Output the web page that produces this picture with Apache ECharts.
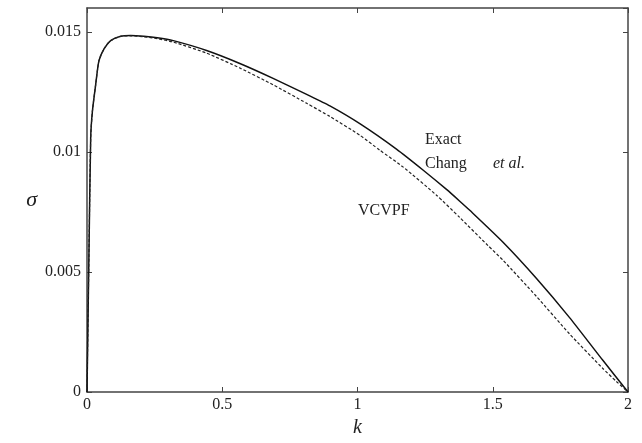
<!DOCTYPE html>
<html>
<head>
    <meta charset="UTF-8">
    <title>sigma-k</title>
    <script src="https://cdn.jsdelivr.net/npm/echarts@6/dist/echarts.min.js"></script>
    <style>
        html,body{margin:0;padding:0;background:#fff;}
        #chart{width:642px;height:443px;}
    </style>
</head>
<body>
<div id="chart"></div>
<script>
    // Exact (Chang et al.) - solid
    let kExact = [0, 0.003, 0.007, 0.0137, 0.02, 0.032, 0.044, 0.063, 0.0875, 0.1245, 0.161, 0.21, 0.26, 0.319, 0.442, 0.565, 0.688, 0.812, 0.898, 1.0085, 1.144, 1.242, 1.329, 1.378, 1.415, 1.538, 1.661, 1.784, 1.907, 2.0];
    let sigmaExact = [0, 0.0024, 0.0056, 0.0106, 0.0117, 0.0128, 0.0138, 0.0143, 0.01464, 0.01482, 0.01485, 0.01482, 0.01476, 0.01464, 0.01423, 0.01369, 0.01307, 0.0124, 0.01192, 0.01118, 0.01012, 0.00925, 0.00844, 0.00795, 0.00757, 0.00624, 0.00474, 0.0031, 0.00132, 0];
    // VCVPF - dashed
    let kVcvpf = [0, 0.003, 0.007, 0.0137, 0.02, 0.032, 0.044, 0.063, 0.0875, 0.1245, 0.161, 0.21, 0.26, 0.319, 0.442, 0.565, 0.688, 0.812, 0.898, 1.0085, 1.082, 1.168, 1.292, 1.378, 1.4825, 1.538, 1.661, 1.784, 1.907, 1.957, 2.0];
    let sigmaVcvpf = [0, 0.0024, 0.0056, 0.0106, 0.0117, 0.0128, 0.0138, 0.0143, 0.01464, 0.01482, 0.01484, 0.0148, 0.01472, 0.01458, 0.01412, 0.0135, 0.0128, 0.01203, 0.01148, 0.0107, 0.01008, 0.00938, 0.0082, 0.00727, 0.0061, 0.00549, 0.00399, 0.00242, 0.00098, 0.00044, 0];

    let xTicks = [0, 0.5, 1, 1.5, 2];
    let yTicks = [0, 0.005, 0.01, 0.015];

    let font = 'Liberation Serif';
    let axisColor = '#444';

    function pairs(xs, ys) {
        return xs.map(function (x, i) { return [x, ys[i]]; });
    }

    function frameAxis(extra) {
        let base = {
            type: 'value',
            axisLine: {show: true, onZero: false, lineStyle: {color: axisColor, width: 1.5}},
            axisTick: {show: true, inside: true, length: 5, lineStyle: {color: axisColor, width: 1}},
            axisLabel: {show: false},
            splitLine: {show: false}
        };
        return Object.assign(base, extra);
    }

    let myChart = echarts.init(document.getElementById('chart'));
    let option = {
        animation: false,
        grid: {left: 87, right: 14, top: 8, bottom: 44},
        xAxis: [
            frameAxis({
                min: 0, max: 2, interval: 0.5, position: 'bottom',
                name: 'k', nameLocation: 'middle', nameGap: 26,
                nameTextStyle: {fontFamily: font, fontStyle: 'italic', fontSize: 20, color: '#222'},
                axisLabel: {
                    show: true, margin: 5, fontFamily: font, fontSize: 16, color: '#222',
                    formatter: function (v) { return xTicks.indexOf(v) >= 0 ? String(v) : ''; }
                }
            }),
            frameAxis({min: 0, max: 2, interval: 0.5, position: 'top'})
        ],
        yAxis: [
            frameAxis({
                min: 0, max: 0.016, interval: 0.005, position: 'left',
                name: 'σ', nameLocation: 'middle', nameGap: 50, nameRotate: 0,
                nameTextStyle: {fontFamily: font, fontStyle: 'italic', fontSize: 22, color: '#222'},
                axisLabel: {
                    show: true, margin: 6, fontFamily: font, fontSize: 16, color: '#222',
                    showMaxLabel: false,
                    formatter: function (v) {
                        let t = yTicks.find(function (y) { return Math.abs(y - v) < 1e-9; });
                        return t === undefined ? '' : String(t);
                    }
                }
            }),
            frameAxis({min: 0, max: 0.016, interval: 0.005, position: 'right'})
        ],
        series: [
            {
                name: 'Exact',
                type: 'line',
                showSymbol: false,
                smooth: 0.2,
                lineStyle: {color: '#111', width: 1.5},
                data: pairs(kExact, sigmaExact)
            },
            {
                name: 'VCVPF',
                type: 'line',
                showSymbol: false,
                smooth: 0.2,
                lineStyle: {color: '#222', width: 1.2, type: [3, 2]},
                data: pairs(kVcvpf, sigmaVcvpf)
            }
        ],
        graphic: [
            {type: 'text', left: 425, top: 132, style: {text: 'Exact', font: '16px "Liberation Serif"', fill: '#222'}},
            {type: 'text', left: 425, top: 156, style: {text: 'Chang', font: '16px "Liberation Serif"', fill: '#222'}},
            {type: 'text', left: 493, top: 156, style: {text: 'et al.', font: 'italic 16px "Liberation Serif"', fill: '#222'}},
            {type: 'text', left: 358, top: 203, style: {text: 'VCVPF', font: '16px "Liberation Serif"', fill: '#222'}}
        ]
    };
    myChart.setOption(option);
</script>
</body>
</html>
